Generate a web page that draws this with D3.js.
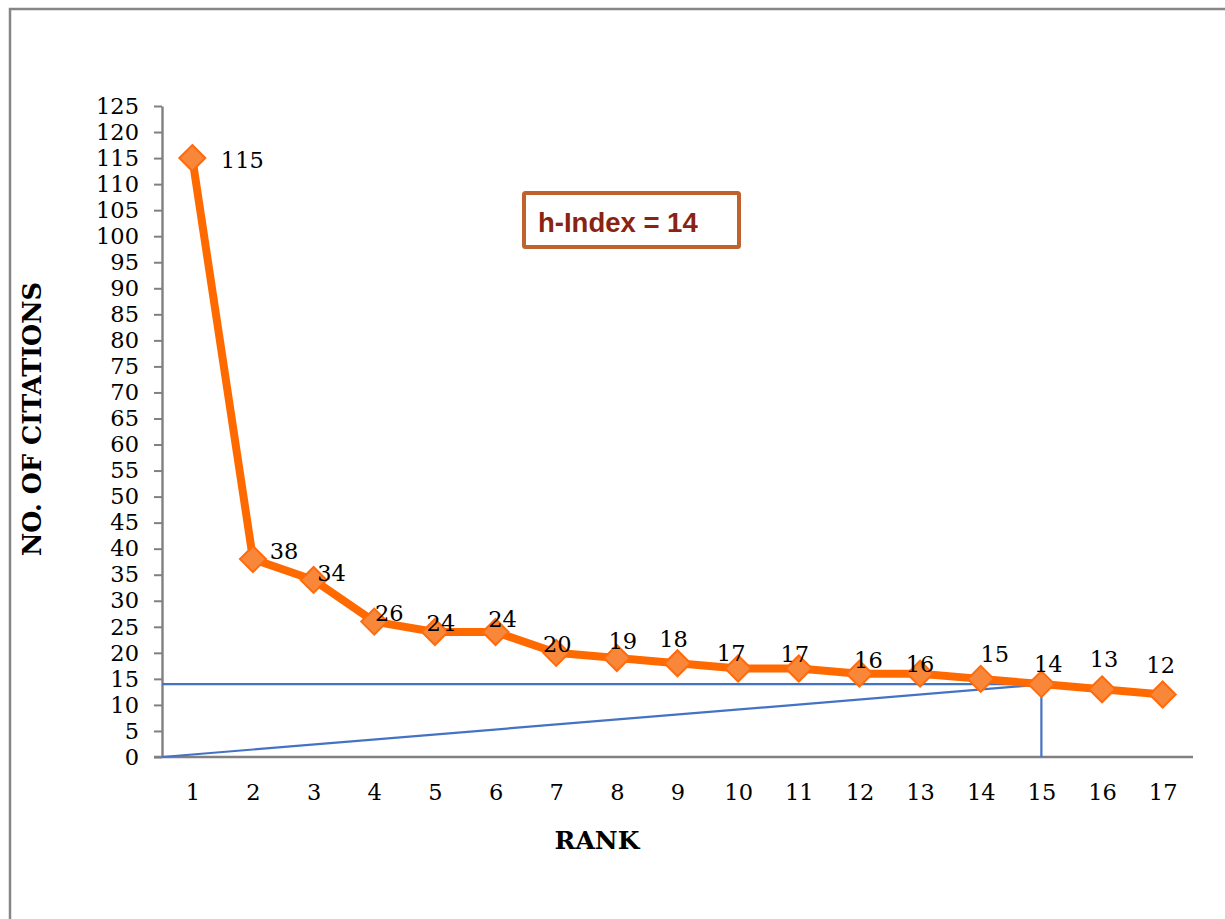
<!DOCTYPE html>
<html>
<head>
<meta charset="utf-8">
<script src="https://cdn.jsdelivr.net/npm/d3@7"></script>
<style>
  html, body { margin: 0; padding: 0; background: #fff; }
  svg text { font-family: "DejaVu Serif", serif; fill: #000; }
</style>
</head>
<body>
<svg id="chart" width="1225" height="919"></svg>
<script>
// Values
const ranks = [1, 2, 3, 4, 5, 6, 7, 8, 9, 10, 11, 12, 13, 14, 15, 16, 17]
const citations = [115, 38, 34, 26, 24, 24, 20, 19, 18, 17, 17, 16, 16, 15, 14, 13, 12]
const yTicks = d3.range(0, 126, 5)
const hIndex = 14
const hRank = 15

// Label nudges (dx, dy) mimicking where the spreadsheet placed each label
const labelNudge = [
  [50, 2], [31, -8], [18, -7], [15, -9], [6, -9], [7, -13], [1, -9], [6, -17], [-4, -24],
  [-7, -15], [-4, -14], [9, -14], [0, -10], [14, -25], [7, -20], [2, -30], [-2, -30]
]

const svg = d3.select("#chart")

// Outer frame (right and bottom run off the page)
svg.append("rect")
  .attr("x", 10).attr("y", 9)
  .attr("width", 1240).attr("height", 940)
  .attr("fill", "none").attr("stroke", "#868686").attr("stroke-width", 2.5)

const x = d3.scalePoint().domain(ranks).range([162, 1193]).padding(0.5)
const y = d3.scaleLinear().domain([0, 125]).range([757, 106])

// Y axis
const yAxis = svg.append("g")
  .attr("transform", "translate(162,0)")
  .call(d3.axisLeft(y).tickValues(yTicks).tickSize(8).tickPadding(15).tickSizeOuter(0))
yAxis.select(".domain").attr("stroke", "#808080").attr("stroke-width", 2.4)
yAxis.selectAll(".tick line").attr("stroke", "#808080").attr("stroke-width", 2)
yAxis.selectAll(".tick text").attr("font-family", "DejaVu Serif").attr("font-size", 22.5).attr("fill", "#000")

// X axis line, no ticks
const xAxis = svg.append("g")
  .attr("transform", "translate(0,757)")
  .call(d3.axisBottom(x).tickSize(0).tickPadding(27))
xAxis.select(".domain").attr("stroke", "#808080").attr("stroke-width", 2.4)
  .attr("d", "M154,0H1193")
xAxis.selectAll(".tick text").attr("font-family", "DejaVu Serif").attr("font-size", 22.5).attr("fill", "#000")

// h-index guide lines
const blue = "#4472C4"
const guides = svg.append("g").attr("stroke", blue).attr("stroke-width", 2.2).attr("fill", "none")
guides.append("line")
  .attr("x1", 162).attr("x2", x(hRank) + 5)
  .attr("y1", y(hIndex)).attr("y2", y(hIndex))
guides.append("line")
  .attr("x1", 162).attr("y1", y(0))
  .attr("x2", x(hRank) + 5).attr("y2", y(hIndex))
guides.append("line")
  .attr("x1", x(hRank)).attr("x2", x(hRank))
  .attr("y1", y(hIndex)).attr("y2", y(0))

// Series line
const pts = ranks.map((r, i) => ({ r, v: citations[i], i }))
svg.append("path")
  .datum(pts)
  .attr("fill", "none")
  .attr("stroke", "#FF6A00")
  .attr("stroke-width", 8)
  .attr("stroke-linejoin", "round")
  .attr("d", d3.line().x(d => x(d.r)).y(d => y(d.v)))

// Diamond markers
svg.append("g").selectAll("path")
  .data(pts)
  .join("path")
  .attr("transform", d => `translate(${x(d.r)},${y(d.v)})`)
  .attr("d", "M0,-13L13,0L0,13L-13,0Z")
  .attr("fill", "#F9873A")
  .attr("stroke", "#FF6A0B")
  .attr("stroke-width", 2)

// Data labels
svg.append("g").selectAll("text")
  .data(pts)
  .join("text")
  .attr("x", d => x(d.r) + labelNudge[d.i][0])
  .attr("y", d => y(d.v) + labelNudge[d.i][1])
  .attr("text-anchor", "middle")
  .attr("dominant-baseline", "central")
  .attr("font-size", 22.5)
  .text(d => d.v)

// Axis titles
svg.append("text")
  .attr("transform", "translate(32,419) rotate(-90)")
  .attr("text-anchor", "middle")
  .attr("dominant-baseline", "central")
  .attr("font-weight", "bold")
  .attr("font-size", 25.5)
  .text("NO. OF CITATIONS")

svg.append("text")
  .attr("x", 597).attr("y", 840)
  .attr("text-anchor", "middle")
  .attr("dominant-baseline", "central")
  .attr("font-weight", "bold")
  .attr("font-size", 25)
  .text("RANK")

// h-Index callout box
svg.append("rect")
  .attr("x", 524).attr("y", 193)
  .attr("width", 215).attr("height", 54)
  .attr("fill", "#fff").attr("stroke", "#C0622B").attr("stroke-width", 4).attr("rx", 1.5)
svg.append("text")
  .attr("x", 538).attr("y", 222)
  .attr("dominant-baseline", "central")
  .attr("font-weight", "bold")
  .attr("font-size", 27.5)
  .style("font-family", "'Liberation Sans', Arial, sans-serif")
  .style("fill", "#8A2311")
  .text(`h-Index = ${hIndex}`)
</script>
</body>
</html>
